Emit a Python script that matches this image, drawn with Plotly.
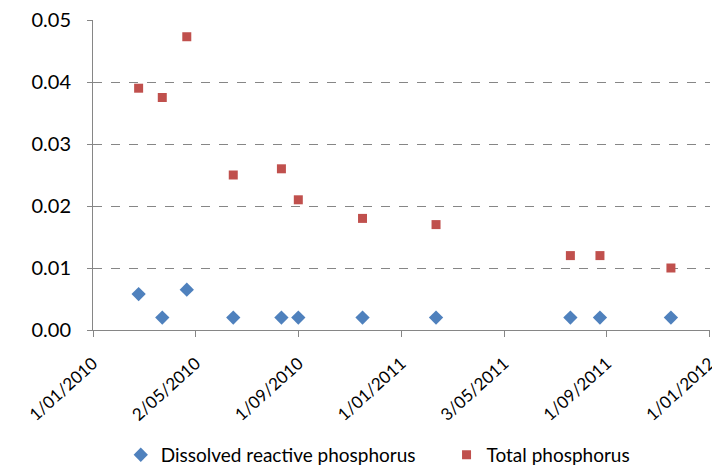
import plotly.graph_objects as go

dates = ["2010-02-24", "2010-03-24", "2010-04-22", "2010-06-16", "2010-08-12",
         "2010-09-01", "2010-11-16", "2011-02-11", "2011-07-20", "2011-08-24",
         "2011-11-16"]
drp = [0.0058, 0.002, 0.0065, 0.002, 0.002, 0.002, 0.002, 0.002, 0.002, 0.002, 0.002]
tp = [0.039, 0.0375, 0.0473, 0.025, 0.026, 0.021, 0.018, 0.017, 0.012, 0.012, 0.010]

tick_vals = ["2010-01-01 00:00", "2010-05-02 16:00", "2010-09-01 08:00",
             "2011-01-01 00:00", "2011-05-02 16:00", "2011-09-01 08:00",
             "2012-01-01 00:00"]
tick_text = ["1/01/2010", "2/05/2010", "1/09/2010", "1/01/2011",
             "3/05/2011", "1/09/2011", "1/01/2012"]

FONT = "Lato, 'Open Sans', sans-serif"

fig = go.Figure()
fig.add_trace(go.Scatter(x=dates, y=drp, mode="markers",
                         name="Dissolved reactive phosphorus", legend="legend",
                         marker=dict(symbol="diamond", size=11, color="#4F81BD")))
fig.add_trace(go.Scatter(x=dates, y=tp, mode="markers",
                         name="Total phosphorus", legend="legend2",
                         marker=dict(symbol="square", size=9, color="#C0504D")))

leg_common = dict(orientation="h", yref="container", y=0.028, yanchor="middle",
                  xanchor="left", font=dict(size=19), itemwidth=30,
                  bgcolor="rgba(0,0,0,0)")

fig.update_layout(
    width=712, height=468,
    margin=dict(l=93, r=2, t=20, b=138),
    paper_bgcolor="white", plot_bgcolor="white",
    font=dict(family=FONT, size=19, color="black"),
    showlegend=True,
    legend=dict(x=0.045, **leg_common),
    legend2=dict(x=0.573, **leg_common),
    xaxis=dict(type="date", range=["2010-01-01", "2012-01-01 06:00"],
               tickvals=tick_vals, ticktext=tick_text, tickangle=-42,
               showgrid=False, zeroline=False, automargin=False,
               ticklabeloverflow="allow", ticklabelstandoff=10,
               showline=True, linecolor="#868686", linewidth=1,
               ticks="outside", ticklen=6, tickcolor="#868686",
               tickfont=dict(size=17)),
    yaxis=dict(range=[0, 0.05], tickvals=[0, 0.01, 0.02, 0.03, 0.04, 0.05],
               tickformat=".2f", showgrid=True, gridcolor="#868686",
               griddash="dash", gridwidth=1, zeroline=False, automargin=False,
               showline=True, linecolor="#868686", linewidth=1,
               ticks="outside", ticklen=5, tickcolor="#868686",
               ticklabelstandoff=12, tickfont=dict(size=20)),
)

fig.write_html("out.html", config={"displayModeBar": False},
               post_script="document.body.style.margin='0px';document.body.style.overflow='hidden';")
